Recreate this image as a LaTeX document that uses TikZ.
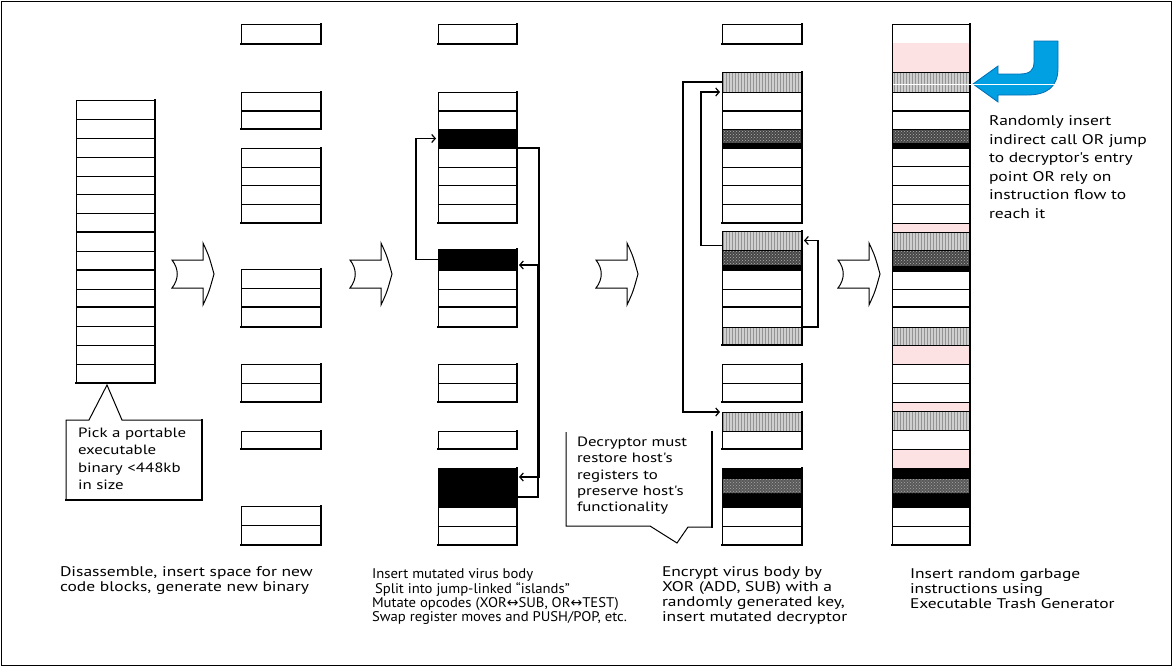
\documentclass[tikz,border=0pt]{standalone}
\usepackage{fontspec}
\setmainfont{PT Sans}
\newfontfamily\widefont[FakeStretch=1.25]{PT Sans}
\newfontfamily\midfont[FakeStretch=1.05]{PT Sans}
\newfontfamily\symfont{DejaVu Sans}
\usetikzlibrary{arrows.meta,patterns}

% helpers for the code-block columns
\newcommand\blockbox[5]{% name, x, y, width, height
  \node[blk, minimum width=#4, minimum height=#5] (#1) at (#2,#3) {};
  \draw[edgeshadow] (#1.north east) -- (#1.south east) -- (#1.south west);}
\newcommand\rowsep[3]{\draw[sepline] (#1,#2) -- ++(#3,0);}
\newcommand\rowsepthick[3]{\draw[septhick] (#1,#2) -- ++(#3,0);}
\newcommand\graycell[4]{%
  \fill[gray!38] (#1,#2) rectangle ++(#3,#4);
  \fill[pattern=vertical lines, pattern color=gray!85] (#1,#2) rectangle ++(#3,#4);}
\newcommand\darkcell[4]{%
  \fill[black!72] (#1,#2) rectangle ++(#3,#4);
  \fill[pattern=crosshatch dots, pattern color=gray!60] (#1,#2) rectangle ++(#3,#4-5);
  \fill[black] (#1,#2+#4-5) rectangle ++(#3,5);}
\newcommand\blackband[4]{%
  \fill[black] (#1,#2) rectangle ++(#3,#4);
  \fill[black!65] (#1,#2+11) rectangle ++(#3,14);
  \fill[pattern=crosshatch dots, pattern color=gray!70] (#1,#2+11) rectangle ++(#3,14);}
\newcommand\pinkcell[4]{%
  \fill[pinkfill] (#1,#2) rectangle ++(#3,#4);}
\newcommand\hollowarrow[3]{% name, tail x, centre y
  \draw[hollow] (#2,#3-14) -- (#2+31,#3-14) -- (#2+31,#3-31)
    .. controls (#2+37,#3-18) .. (#2+42,#3)
    .. controls (#2+37,#3+18) .. (#2+31,#3+31)
    -- (#2+31,#3+14) -- (#2,#3+14)
    .. controls (#2+7,#3+5) and (#2+7,#3-5) .. (#2,#3-14) -- cycle;
  \coordinate (#1) at (#2+20,#3);}

\definecolor{pinkfill}{RGB}{252,226,226}
\definecolor{bluearrow}{RGB}{0,160,226}
\definecolor{bluedark}{RGB}{0,110,180}

\begin{document}
\begin{tikzpicture}[x=1pt,y=-1pt,
  blk/.style={draw, line width=1pt, anchor=north west, inner sep=0pt, outer sep=0pt},
  edgeshadow/.style={line width=2.3pt, line cap=rect},
  sepline/.style={line width=0.9pt},
  septhick/.style={line width=2pt},
  cell/.style={anchor=north west, inner sep=0pt, outer sep=0pt, minimum width=79},
  link/.style={line width=1.2pt},
  tip/.style={-{Straight Barb[length=3.5pt,width=8pt]}, shorten >=2pt},
  hollow/.style={draw, line width=1pt, fill=white},
  callout/.style={draw, line width=1pt, fill=white},
  txt/.style={anchor=north west, inner sep=0pt, outer sep=0pt, align=left},
  caption/.style={txt, font=\widefont\fontsize{14}{15}\selectfont},
  note/.style={txt, font=\widefont\fontsize{13.5}{17.3}\selectfont}]

\useasboundingbox (0,0) rectangle (1173,667);
\draw[line width=1pt] (1,1) rectangle (1171,665);

% ---------- column 1: the original binary ----------
\blockbox{c1}{76}{100}{79}{283}
\foreach \y in {119,138,157,176,194,213,251,289,326,345,364} {\rowsep{76}{\y}{79}}
\foreach \y in {232,270,307} {\rowsepthick{76}{\y}{79}}

% ---------- column 2: space inserted ----------
\blockbox{c2a}{241}{24}{80}{20}
\blockbox{c2b}{241}{92}{80}{37}
\rowsepthick{241}{111}{80}
\blockbox{c2c}{241}{148}{80}{75}
\foreach \y in {167,185,204} {\rowsep{241}{\y}{80}}
\blockbox{c2d}{241}{269}{80}{58}
\rowsep{241}{288}{80}\rowsepthick{241}{307}{80}
\blockbox{c2e}{241}{364}{80}{38}
\rowsep{241}{383}{80}
\blockbox{c2f}{241}{431}{80}{18}
\blockbox{c2g}{241}{506}{80}{39}
\rowsep{241}{525}{80}

% ---------- column 3: virus islands ----------
\node[cell, fill=black, minimum height=19] (c3i1) at (438,129) {};
\node[cell, fill=black, minimum height=21] (c3i2) at (438,249) {};
\node[cell, fill=black, minimum height=39] (c3i3) at (438,468) {};
\blockbox{c3a}{438}{24}{79}{20}
\blockbox{c3b}{438}{92}{79}{131}
\rowsepthick{438}{111}{79}
\foreach \y in {129,148,167,185,204} {\rowsep{438}{\y}{79}}
\blockbox{c3c}{438}{249}{79}{78}
\rowsep{438}{270}{79}\rowsep{438}{289}{79}\rowsepthick{438}{307}{79}
\blockbox{c3d}{438}{364}{79}{38}
\rowsep{438}{383}{79}
\blockbox{c3e}{438}{431}{79}{18}
\blockbox{c3f}{438}{468}{79}{77}
\rowsep{438}{507}{79}\rowsep{438}{526}{79}

\draw[link,tip] (c3i1.south east) -- ++(22,0) |- ([yshift=10.5pt]c3i3.east);
\draw[link,tip] ([yshift=-9.5pt]c3i3.east) -- ++(21,0) |- ([yshift=-5.5pt]c3i2.east);
\draw[link,tip] (c3i2.west) -- ++(-22,0) |- (c3i1.west);

% ---------- column 4: encrypted body and decryptor ----------
\node[cell, minimum width=80, minimum height=20, fill=gray!38,
      postaction={pattern=vertical lines, pattern color=gray!85}] (c4g1) at (722,72) {};
\node[cell, minimum width=80, minimum height=19, fill=gray!38,
      postaction={pattern=vertical lines, pattern color=gray!85}] (c4g2) at (722,231) {};
\node[cell, minimum width=80, minimum height=18, fill=gray!38,
      postaction={pattern=vertical lines, pattern color=gray!85}] (c4g3) at (722,327) {};
\node[cell, minimum width=80, minimum height=19, fill=gray!38,
      postaction={pattern=vertical lines, pattern color=gray!85}] (c4g4) at (722,412) {};
\darkcell{722}{129}{80}{19}
\darkcell{722}{250}{80}{20}
\blackband{722}{468}{80}{39}
\blockbox{c4a}{722}{24}{80}{20}
\blockbox{c4b}{722}{72}{80}{151}
\rowsep{722}{92}{80}\rowsepthick{722}{111}{80}
\foreach \y in {129,148,167,185,204} {\rowsep{722}{\y}{80}}
\blockbox{c4c}{722}{231}{80}{114}
\foreach \y in {250,270,289,327} {\rowsep{722}{\y}{80}}
\rowsepthick{722}{307}{80}
\blockbox{c4d}{722}{364}{80}{38}
\rowsep{722}{383}{80}
\blockbox{c4e}{722}{412}{80}{37}
\rowsep{722}{431}{80}
\blockbox{c4f}{722}{468}{80}{77}
\rowsep{722}{507}{80}\rowsep{722}{526}{80}

\draw[link,tip] (c4g1.west) -- ++(-39,0) |- (c4g4.north west);
\draw[link,tip] ([yshift=-5pt]c4g2.west) -- ++(-21,0) |- (c4g1.south west);
\draw[link,tip] (c4g3.north east) -- ++(16,0) |- (c4g2.east);

% ---------- column 5: garbage instructions inserted ----------
\pinkcell{892}{43}{78}{29}
\graycell{892}{72}{78}{20}
\darkcell{892}{129}{78}{19}
\pinkcell{892}{223}{78}{9}
\graycell{892}{232}{78}{18}
\darkcell{892}{250}{78}{21}
\graycell{892}{327}{78}{18}
\pinkcell{892}{345}{78}{19}
\pinkcell{892}{402}{78}{9}
\graycell{892}{411}{78}{19}
\pinkcell{892}{449}{78}{19}
\blackband{892}{468}{78}{39}
\blockbox{c5}{892}{24}{78}{521}
\foreach \y in {72,92,129,148,166,185,204,223,232,250,271,289,327,345,364,383,402,411,430,449,468,507,526}
  {\rowsep{892}{\y}{78}}
\rowsepthick{892}{111}{78}\rowsepthick{892}{307}{78}

% blue pointer to the decryptor entry
\draw[line width=0.8pt, draw=bluedark, fill=bluearrow]
  (1034,41) -- (1058,41) -- (1058,68)
  .. controls (1058,87) and (1047,95) .. (1027,95)
  -- (998,95) -- (998,102) -- (973,84) -- (998,66) -- (998,74) -- (1020,74)
  .. controls (1030,74) and (1034,70) .. (1034,62) -- cycle;
\draw[white, line width=0.9pt] (893,84) -- (1056,84);

% ---------- hollow step arrows ----------
\hollowarrow{s1}{172}{274}
\hollowarrow{s2}{350}{274}
\hollowarrow{s3}{596}{274}
\hollowarrow{s4}{838}{274}

% ---------- callouts ----------
\draw[callout] (89,420) -- (107,385) -- (122,420) -- (202,420) -- (202,500) -- (66,500) -- (66,420) -- cycle;
\draw[edgeshadow] (202,420) -- (202,500) -- (66,500);
\node[note] (pick) at (78,428) {Pick a portable\\ executable\\binary <448kb\\in size};

\draw[line width=1pt] (566,432) -- (566,526) -- (650,526) -- (677,543) -- (688,527) -- (712,527);
\draw[edgeshadow] (712,527) -- (712,432);
\node[note, font=\widefont\fontsize{13.5}{16.3}\selectfont] (restore) at (577,437)
  {Decryptor must\\restore host's\\registers to\\preserve host's\\functionality};

\node[txt, font=\widefont\fontsize{14}{18.5}\selectfont] (entry) at (989,116)
  {Randomly insert\\indirect call OR jump\\to decryptor's entry\\point OR rely on\\instruction flow to\\reach it};

% ---------- step captions ----------
\node[caption] (cap1) at (60,567) {Disassemble, insert space for new\\code blocks, generate new binary};
\node[caption, font=\midfont\fontsize{14}{14.2}\selectfont] (cap3) at (372,569) {Insert mutated virus body\\\hspace{3pt}Split into jump-linked “islands”\\Mutate opcodes (XOR{\symfont ↔}SUB, OR{\symfont ↔}TEST)\\Swap register moves and PUSH/POP, etc.};
\node[caption] (cap4) at (662,567) {Encrypt virus body by\\XOR (ADD, SUB) with a\\randomly generated key,\\insert mutated decryptor};
\node[caption] (cap5) at (910,569) {Insert random garbage\\instructions using\\Executable Trash Generator};

\end{tikzpicture}
\end{document}
